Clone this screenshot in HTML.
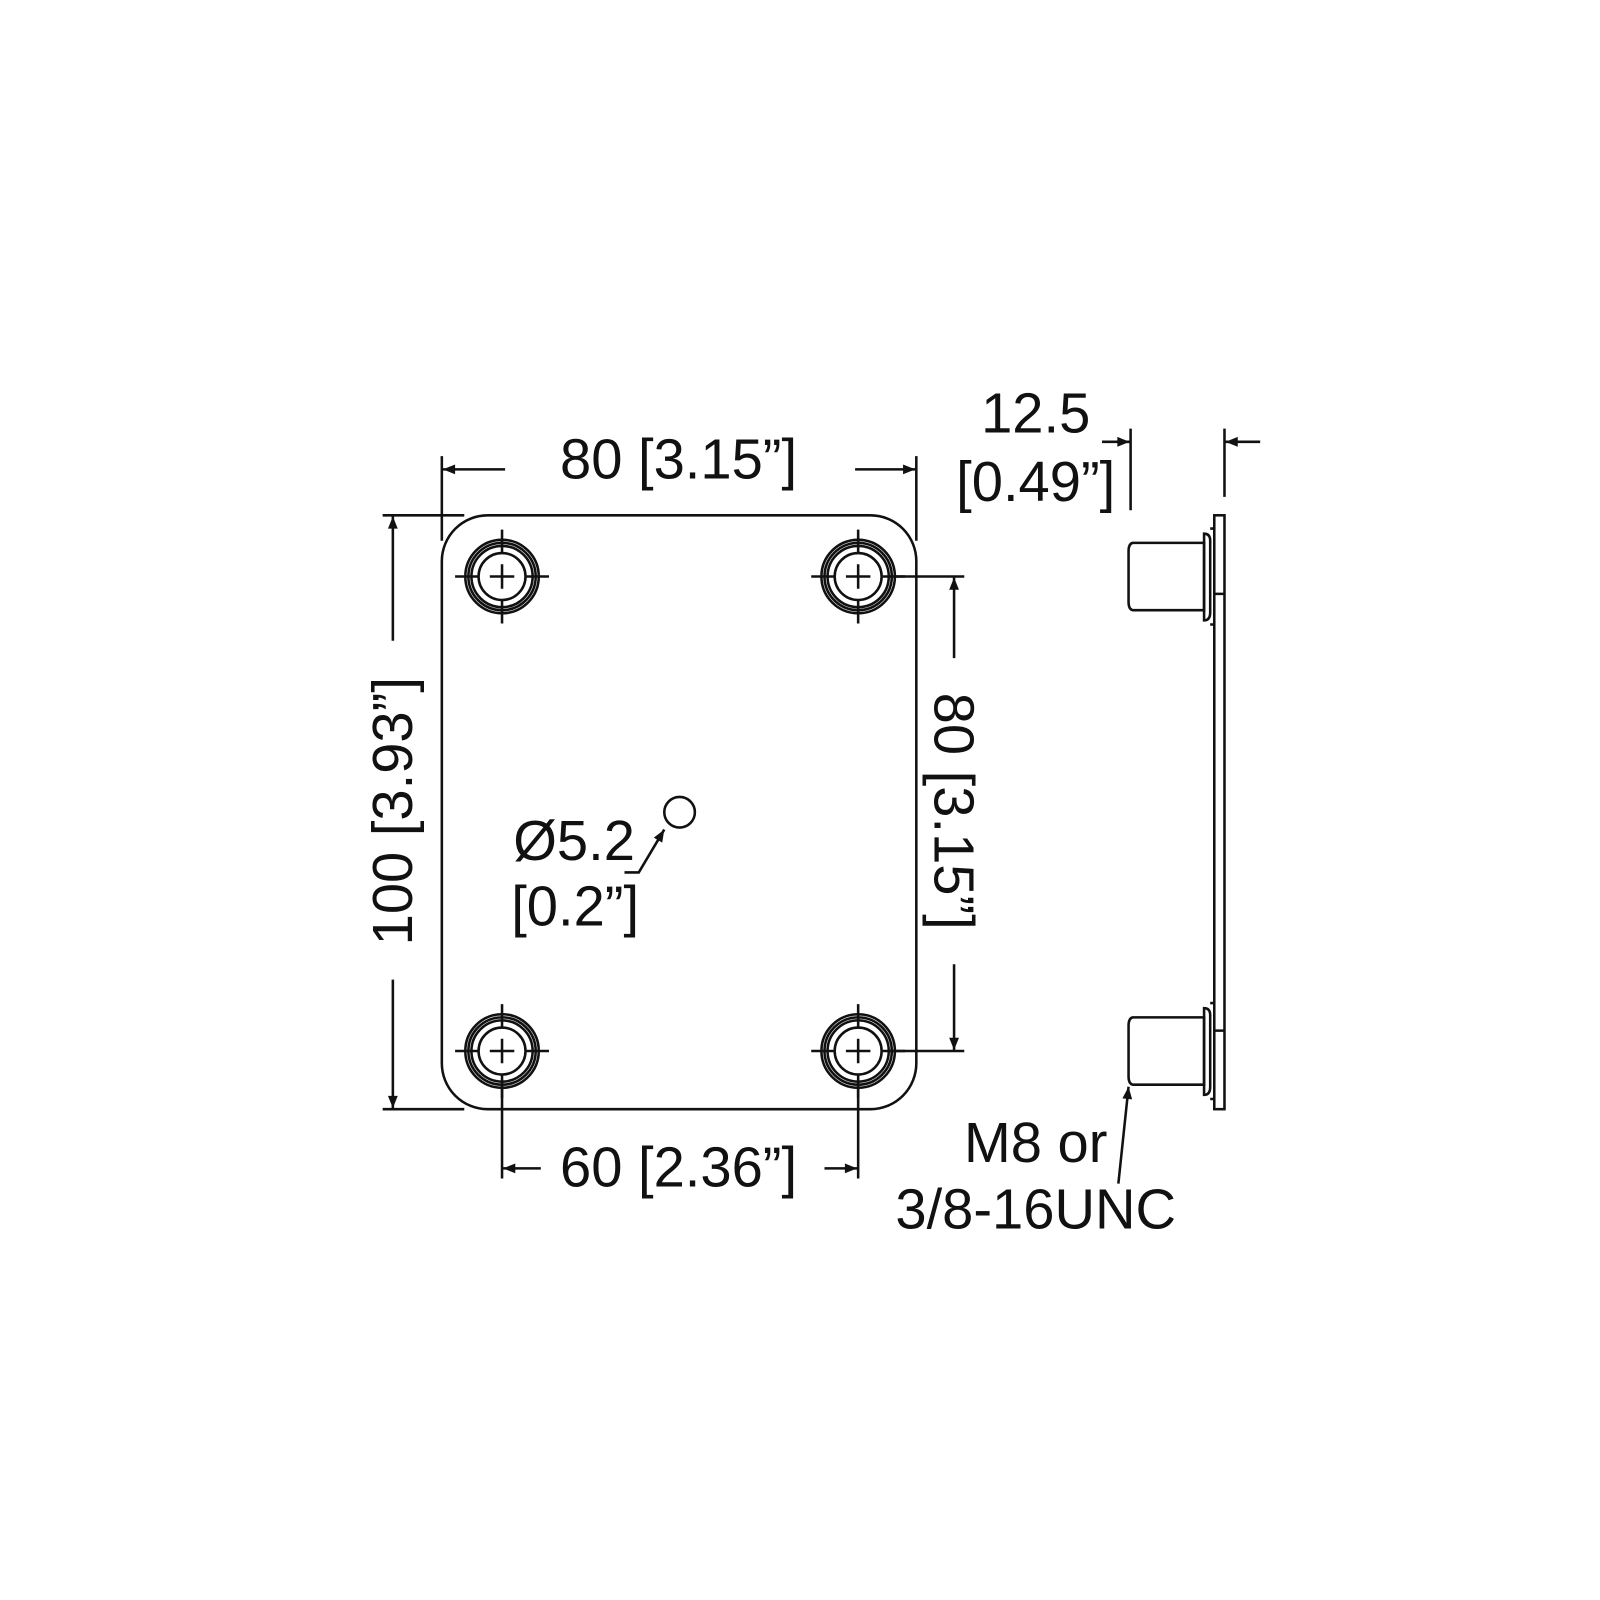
<!DOCTYPE html>
<html><head><style>body{margin:0;background:#fff}svg{display:block}text{font-family:"Liberation Sans",sans-serif;font-size:55px;fill:#111}</style></head>
<body>
<svg width="1600" height="1600" viewBox="0 0 1600 1600" xmlns="http://www.w3.org/2000/svg">
<defs>
<marker id="a" viewBox="0 0 10 10" refX="10" refY="5" markerWidth="20" markerHeight="12" markerUnits="userSpaceOnUse" orient="auto"><path d="M0,1 L10,5 L0,9z" fill="#111"/></marker>
<g id="h" fill="none" stroke="#111" stroke-width="2.5">
<circle r="36"/><circle r="33"/><circle r="30"/><circle r="23"/>
<path d="M-46,0H-24M24,0H46M0,-46V-24M0,24V46M-12,0H12M0,-12V12"/>
</g>
</defs>
<g transform="scale(1.0204)">
<g fill="none" stroke="#111" stroke-width="2.5">
<rect x="433" y="505" width="465" height="582" rx="45"/>
<path d="M433,447V530M898,447V530"/>
<path d="M495,460H434" marker-end="url(#a)"/><path d="M838,460H897" marker-end="url(#a)"/>
<path d="M375,505H455M375,1087H455"/>
<path d="M385,628V506" marker-end="url(#a)"/><path d="M385,960V1086" marker-end="url(#a)"/>
<path d="M870,565H945M870,1030H945"/>
<path d="M935,645V566" marker-end="url(#a)"/><path d="M935,945V1029" marker-end="url(#a)"/>
<path d="M492,1060V1155M841,1060V1155"/>
<path d="M530,1145H493" marker-end="url(#a)"/><path d="M808,1145H840" marker-end="url(#a)"/>
<circle cx="666" cy="796" r="15"/>
<path d="M612,855H626L651,813" marker-end="url(#a)"/>
<path d="M1108,420V500M1200,420V487"/>
<path d="M1080,433H1107" marker-end="url(#a)"/><path d="M1235,433H1201" marker-end="url(#a)"/>
<rect x="1190" y="505" width="10" height="582"/>
<path d="M1190,582H1200M1190,1010H1200"/>
<path d="M1110,532H1180V598H1110Q1106,597 1106,590V540Q1106,533 1110,532Z"/>
<path d="M1180,523Q1186,523 1186,530V600Q1186,608 1180,608Z"/>
<path d="M1186,518H1190M1186,612H1190"/>
<path d="M1110,997H1180V1063H1110Q1106,1062 1106,1055V1005Q1106,998 1110,997Z"/>
<path d="M1180,988Q1186,988 1186,995V1065Q1186,1073 1180,1073Z"/>
<path d="M1186,983H1190M1186,1077H1190"/>
<path d="M1096,1160L1106,1065" marker-end="url(#a)"/>
</g>
<use href="#h" x="492" y="565"/><use href="#h" x="841" y="565"/>
<use href="#h" x="492" y="1030"/><use href="#h" x="841" y="1030"/>
<text x="665" y="469" text-anchor="middle">80 [3.15”]</text>
<text x="665" y="1163" text-anchor="middle">60 [2.36”]</text>
<text transform="translate(404,795) rotate(-90)" text-anchor="middle">100 [3.93”]</text>
<text transform="translate(916,795) rotate(90)" text-anchor="middle">80 [3.15”]</text>
<text x="503" y="843">Ø5.2</text>
<text x="501" y="907">[0.2”]</text>
<text x="1015" y="424" text-anchor="middle">12.5</text>
<text x="1015" y="491" text-anchor="middle">[0.49”]</text>
<text x="1015" y="1139" text-anchor="middle">M8 or</text>
<text x="1015" y="1204" text-anchor="middle">3/8-16UNC</text>
</g>
</svg>
</body></html>
